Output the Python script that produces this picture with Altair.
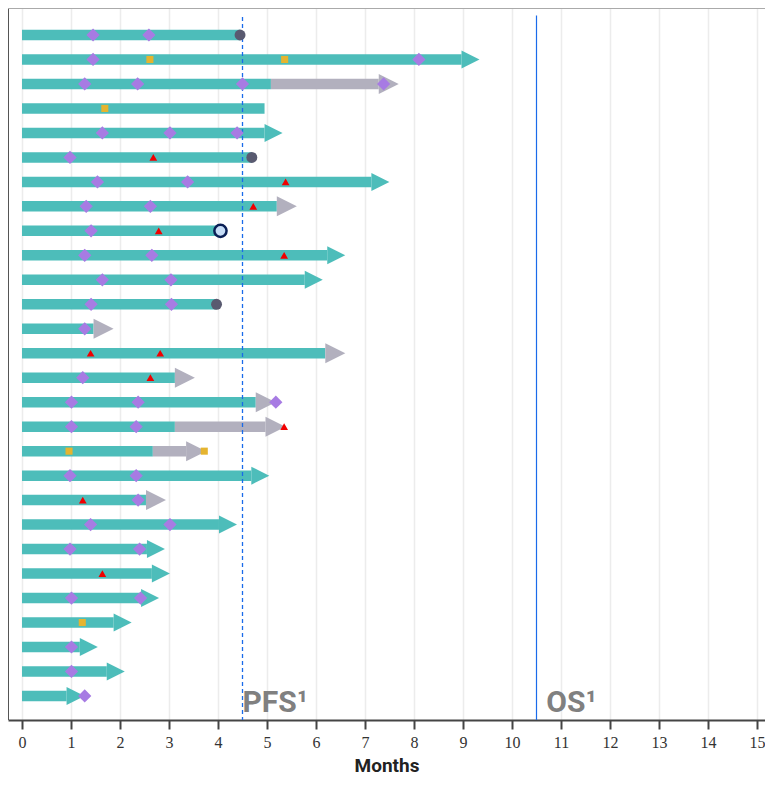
import altair as alt
import pandas as pd

# ---------------- data ----------------
rows = list(range(1, 29))
teal_end = [4.45, 8.97, 5.08, 4.95, 4.95, 4.69, 7.13, 5.20, 4.05, 6.23,
            5.77, 3.97, 1.46, 6.19, 3.12, 4.77, 3.12, 2.67, 4.68, 2.53,
            4.02, 2.55, 2.65, 2.43, 1.87, 1.18, 1.73, 0.91]
# gray continuation segment end (None = no segment)
gray_end = [None, None, 7.28, None, None, None, None, None, None, None,
            None, None, None, None, None, None, 4.97, 3.35, None, None,
            None, None, None, None, None, None, None, None]
end_type = ["dot", "teal", "gray", "none", "teal", "dot", "teal", "gray", "open", "teal",
            "teal", "dot", "gray", "gray", "gray", "gray", "gray", "gray", "teal", "gray",
            "teal", "teal", "teal", "teal", "teal", "teal", "teal", "teal"]

diamond_rows = [1, 1, 2, 2, 3, 3, 3, 3, 5, 5, 5, 6, 7, 7, 8, 8, 9, 10, 10, 11, 11,
                12, 12, 13, 15, 16, 16, 16, 17, 17, 19, 19, 20, 21, 21, 22, 22,
                24, 24, 26, 27, 28]
diamond_months = [1.45, 2.59, 1.45, 8.10, 1.28, 2.36, 4.50, 7.38, 1.64, 3.02, 4.39,
                  0.98, 1.54, 3.38, 1.31, 2.62, 1.41, 1.28, 2.65, 1.64, 3.04,
                  1.41, 3.05, 1.28, 1.24, 1.01, 2.37, 5.18, 1.01, 2.33, 0.98, 2.33,
                  2.37, 1.40, 3.02, 0.98, 2.40, 1.01, 2.42, 1.01, 1.01, 1.28]

square_rows = [2, 2, 4, 18, 18, 25]
square_months = [2.61, 5.36, 1.69, 0.96, 3.72, 1.23]

tri_rows = [6, 7, 8, 9, 10, 14, 14, 15, 17, 20, 23]
tri_months = [2.68, 5.38, 4.72, 2.79, 5.35, 1.40, 2.82, 2.62, 5.35, 1.24, 1.64]

pfs_month = 4.5
os_month = 10.5
ref_labels = ["PFS¹", "OS¹"]
ref_label_x = [4.5, 10.7]
ticks = list(range(0, 16))

# ---------------- tables ----------------
bars = pd.DataFrame({"row": rows, "start": [0.0] * 28, "end": teal_end})
gseg = pd.DataFrame([{"row": r, "start": t, "end": g}
                     for r, t, g in zip(rows, teal_end, gray_end) if g is not None])
arrows = pd.DataFrame([{"row": r, "x": (g if g is not None else t), "kind": k}
                       for r, t, g, k in zip(rows, teal_end, gray_end, end_type)
                       if k in ("teal", "gray")])
dots = pd.DataFrame([{"row": r, "x": t, "kind": k}
                     for r, t, k in zip(rows, teal_end, end_type) if k in ("dot", "open")])
diam = pd.DataFrame({"row": diamond_rows, "x": diamond_months})
sq = pd.DataFrame({"row": square_rows, "x": square_months})
tri = pd.DataFrame({"row": tri_rows, "x": tri_months})
pfs = pd.DataFrame({"x": [pfs_month], "y": [0.265], "y2": [28.98]})
osl = pd.DataFrame({"x": [os_month], "y": [0.2], "y2": [28.98]})
labs = pd.DataFrame({"x": ref_label_x, "label": ref_labels, "y": [28.66] * 2})

W, H = 757, 712
PX = 49.0
xmin = -14 / PX
xscale = alt.Scale(domain=[xmin, xmin + W / PX], nice=False, zero=False)
ymin = -0.103
yscale = alt.Scale(domain=[ymin, ymin + H / 24.48], nice=False, zero=False, reverse=True)
xax = alt.Axis(values=ticks, title="Months", grid=True, gridColor="#ececec", gridWidth=1.5,
               domainColor="#444444", domainWidth=2, tickColor="#444444", tickWidth=2,
               tickSize=9, labelFont="Liberation Serif", labelFontSize=16, labelColor="#333333",
               labelPadding=5, titleFont="Roboto", titleFontSize=19, titleFontWeight="bold",
               titleColor="#222222", titlePadding=6, format="d")


def X(f):
    return alt.X(f, type="quantitative", scale=xscale, axis=xax)


def Y(f):
    return alt.Y(f, type="quantitative", scale=yscale, axis=None)


ARROW = "M0,-1L2,0L0,1Z"

bar_layer = alt.Chart(bars).mark_rule(color="#4DBDBA", strokeWidth=10.5, strokeCap="butt").encode(
    x=X("start"), x2="end", y=Y("row"))
gray_layer = alt.Chart(gseg).mark_rule(color="#B2B0BE", strokeWidth=10.5, strokeCap="butt").encode(
    x=X("start"), x2="end", y=Y("row"))
teal_arrow = alt.Chart(arrows[arrows.kind == "teal"]).mark_point(
    shape=ARROW, filled=True, opacity=1, color="#4DBDBA", size=324).encode(x=X("x"), y=Y("row"))
gray_arrow = alt.Chart(arrows[arrows.kind == "gray"]).mark_point(
    shape=ARROW, filled=True, opacity=1, color="#B2B0BE", size=400).encode(x=X("x"), y=Y("row"))

pfs_line = alt.Chart(pfs).mark_rule(color="#1A6BEA", strokeWidth=1.3, strokeDash=[4, 3]).encode(
    x=X("x"), y=Y("y"), y2="y2")
os_line = alt.Chart(osl).mark_rule(color="#1A6BEA", strokeWidth=1.2).encode(
    x=X("x"), y=Y("y"), y2="y2")

dot_layer = alt.Chart(dots[dots.kind == "dot"]).mark_point(
    shape="circle", filled=True, opacity=1, color="#595A70", size=120).encode(x=X("x"), y=Y("row"))
open_layer = alt.Chart(dots[dots.kind == "open"]).mark_point(
    shape="circle", filled=True, opacity=1, fill="#C6DDF7", stroke="#0A1F55", strokeWidth=2.5,
    size=150).encode(x=X("x"), y=Y("row"))
diam_layer = alt.Chart(diam).mark_point(
    shape="diamond", filled=True, opacity=1, color="#A77BE3", size=175).encode(x=X("x"), y=Y("row"))
sq_layer = alt.Chart(sq).mark_point(
    shape="square", filled=True, opacity=1, color="#E5B42F", size=50).encode(x=X("x"), y=Y("row"))
tri_layer = alt.Chart(tri).mark_point(
    shape="triangle-up", filled=True, opacity=1, color="#F00000", size=60).encode(x=X("x"), y=Y("row"))

text_layer = alt.Chart(labs).mark_text(
    align="left", baseline="alphabetic", font="Roboto", fontSize=30, fontWeight="bold",
    color="#808080").encode(x=X("x"), y=Y("y"), text="label:N")

left_border = alt.Chart(bars).mark_rule(color="#555555", strokeWidth=2).encode(
    x=alt.value(0), y=alt.value(0), y2=alt.value(H))
top_border = alt.Chart(bars).mark_rule(color="#aaaaaa", strokeWidth=1.5).encode(
    x=alt.value(0), x2=alt.value(W), y=alt.value(0))

chart = alt.layer(
    bar_layer, gray_layer, teal_arrow, gray_arrow, pfs_line, os_line,
    dot_layer, open_layer, diam_layer, sq_layer, tri_layer, text_layer,
    left_border, top_border
).properties(
    width=W, height=H,
    padding={"left": 0, "top": 0, "right": 0, "bottom": 58},
    autosize=alt.AutoSizeParams(type="none"),
    background="white"
).configure_view(stroke=None)

chart.save("out.html", embed_options={"renderer": "svg", "actions": False})
